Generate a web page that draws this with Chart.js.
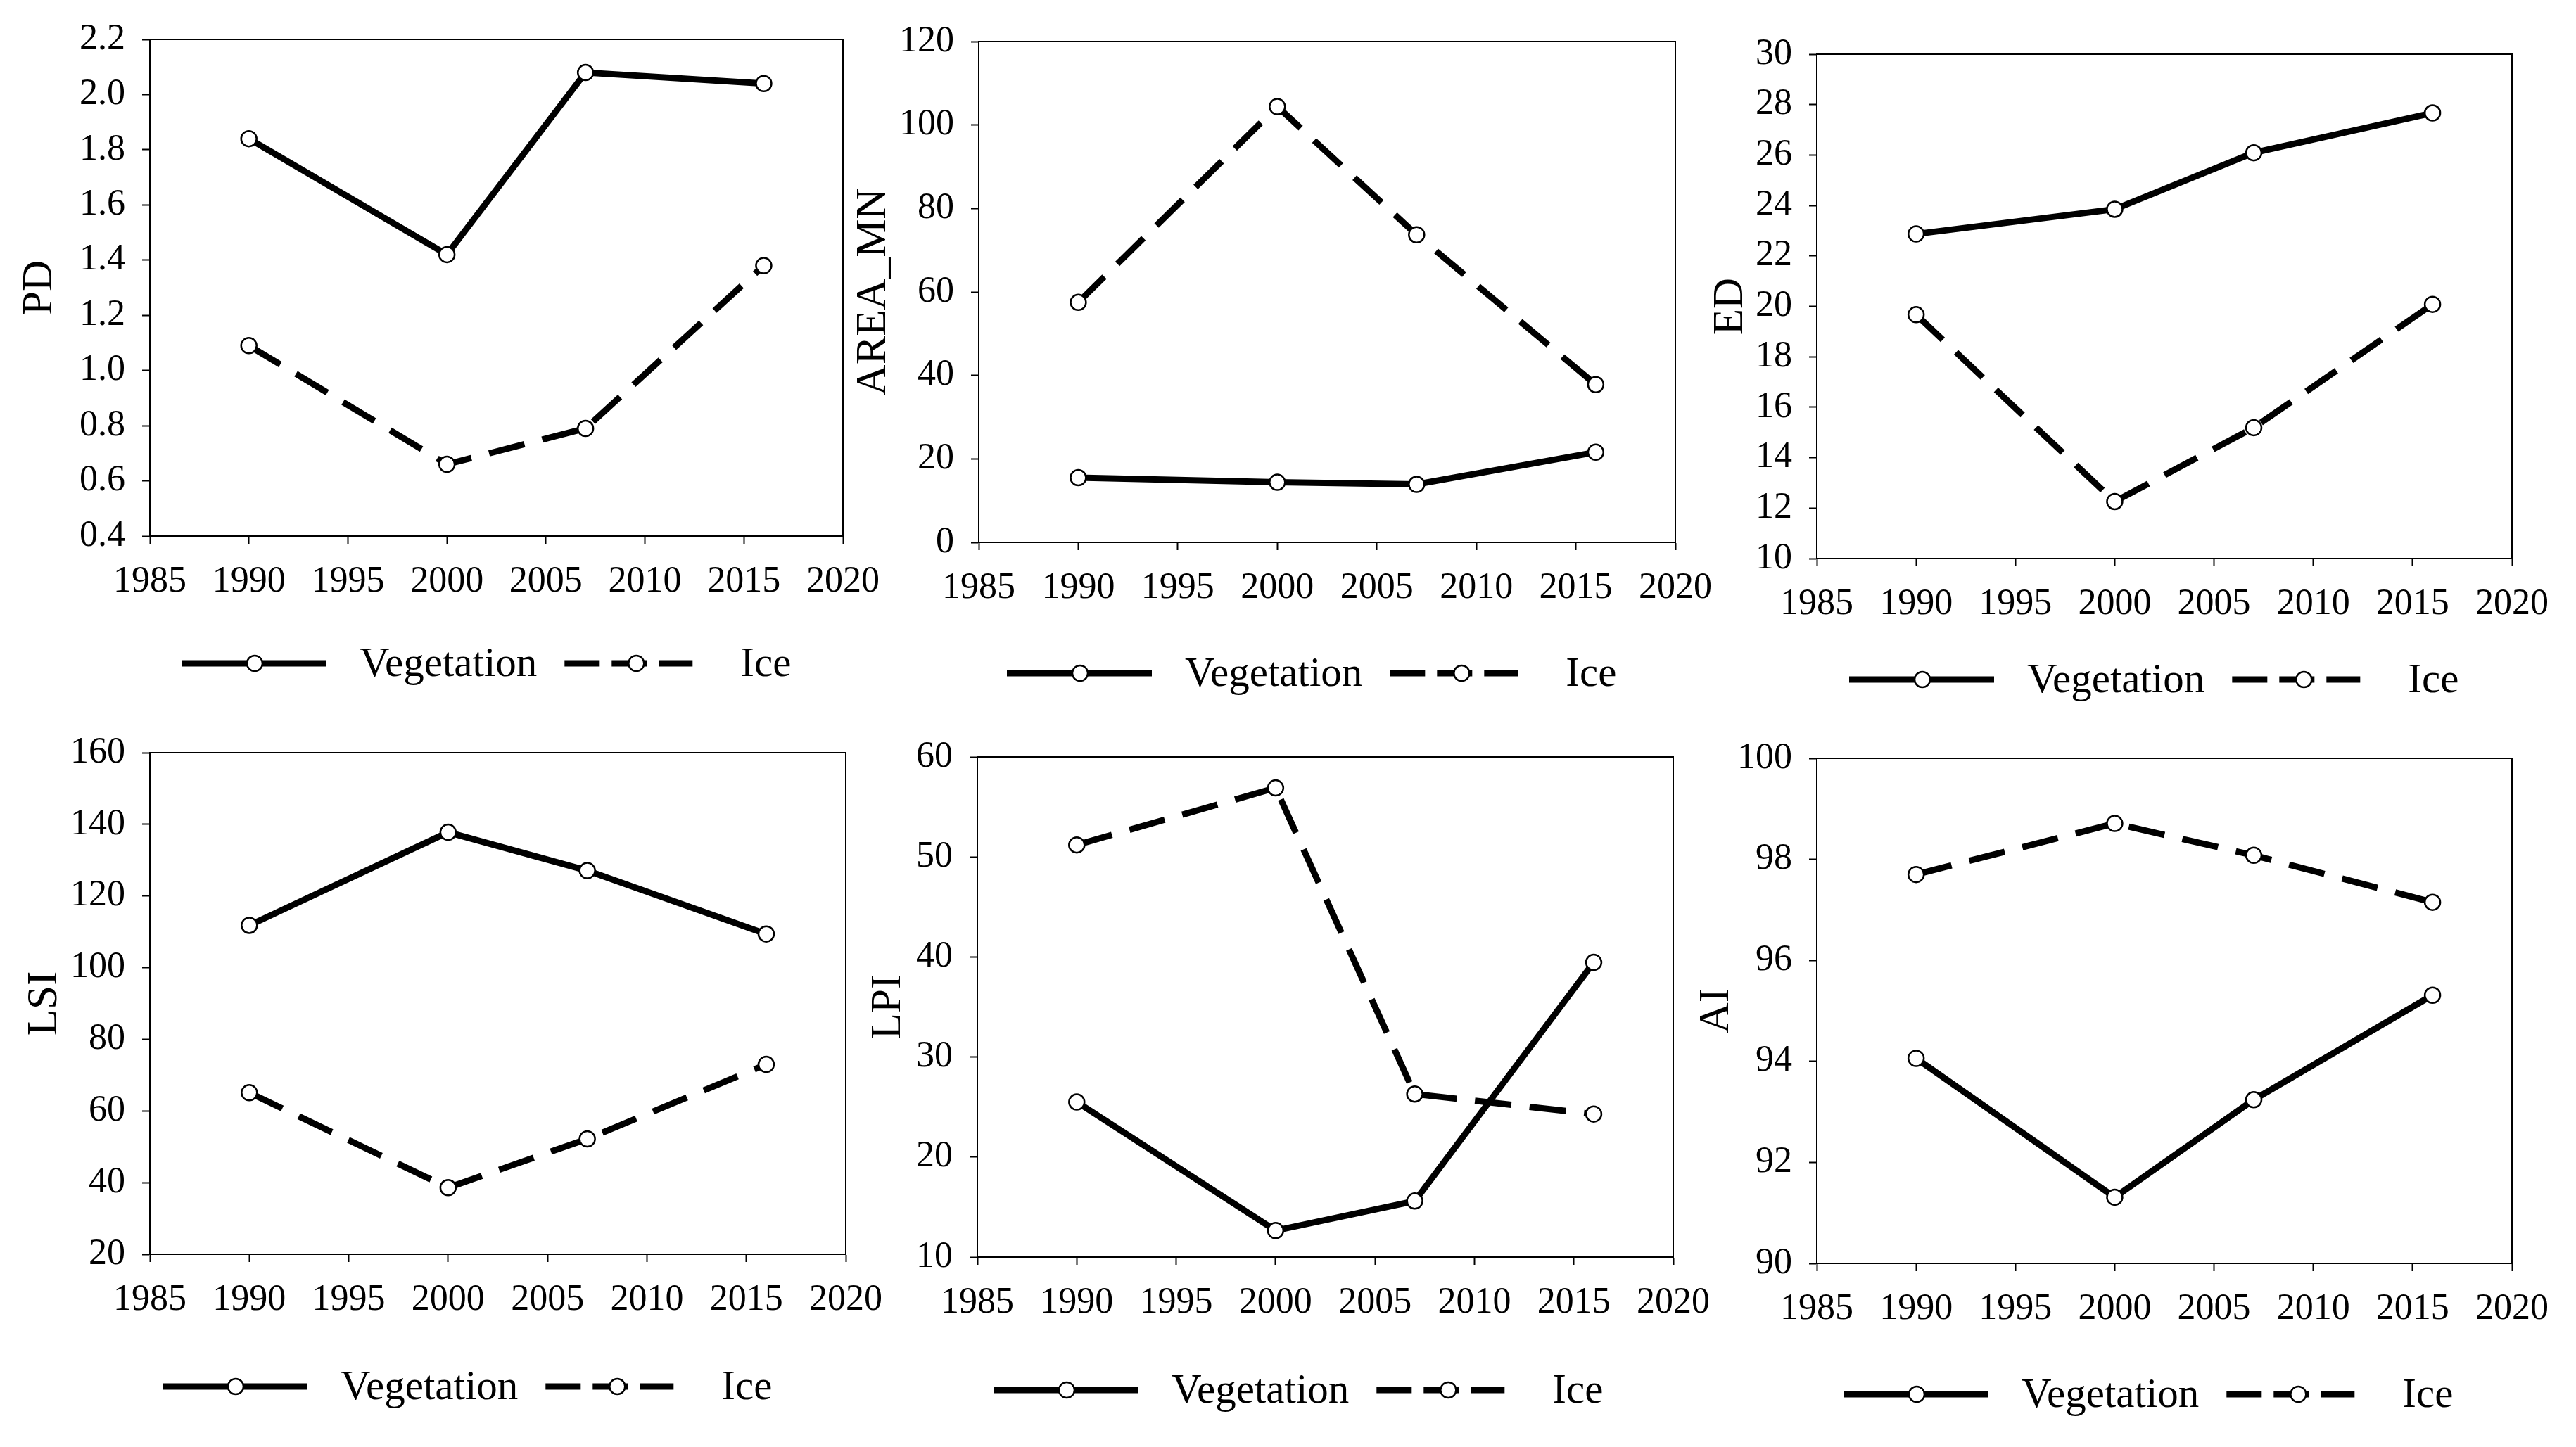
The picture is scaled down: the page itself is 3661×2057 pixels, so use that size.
<!DOCTYPE html>
<html>
<head>
<meta charset="utf-8">
<script src="https://cdn.jsdelivr.net/npm/chart.js@4.4.1/dist/chart.umd.min.js"></script>
<style>
html, body { margin: 0; padding: 0; background: #fff; }
body { width: 3661px; height: 2057px; position: relative; overflow: hidden; }
canvas { position: absolute; }
</style>
</head>
<body>
<script>
// years sampled
const years = [1990, 2000, 2007, 2016];
const xRange = [1985, 2020, 5];

// PD
const pdVeg = [1.84, 1.42, 2.08, 2.04];
const pdIce = [1.09, 0.66, 0.79, 1.38];
const pdRange = [0.4, 2.2, 0.2];
// AREA_MN
const areaVeg = [15.5, 14.4, 13.9, 21.6];
const areaIce = [57.5, 104.4, 73.7, 37.8];
const areaRange = [0, 120, 20];
// ED
const edVeg = [22.87, 23.85, 26.09, 27.67];
const edIce = [19.67, 12.26, 15.19, 20.08];
const edRange = [10, 30, 2];
// LSI
const lsiVeg = [111.8, 137.8, 127.1, 109.4];
const lsiIce = [65.1, 38.6, 52.2, 73.0];
const lsiRange = [20, 160, 20];
// LPI
const lpiVeg = [25.5, 12.65, 15.6, 39.46];
const lpiIce = [51.2, 56.9, 26.3, 24.3];
const lpiRange = [10, 60, 10];
// AI
const aiVeg = [94.06, 91.31, 93.24, 95.31];
const aiIce = [97.70, 98.71, 98.08, 97.15];
const aiRange = [90, 100, 2];

const seriesNames = ['Vegetation', 'Ice'];

const FONT = '"Liberation Serif", "Times New Roman", serif';
const PAD_L = 213, PAD_T = 56, X_H = 100, H = 1000;

// page layout of each panel: plot box [l, t, r, b], title centre, legend start / centre line
const panels = [
  { title: 'PD', veg: pdVeg, ice: pdIce, range: pdRange, dec: 1, plot: [213, 56, 1198, 762], titleX: 57, legendX: 258, legendY: 943 },
  { title: 'AREA_MN', veg: areaVeg, ice: areaIce, range: areaRange, dec: 0, plot: [1391, 59, 2381, 771], titleX: 1242, legendX: 1431, legendY: 957 },
  { title: 'ED', veg: edVeg, ice: edIce, range: edRange, dec: 0, plot: [2582, 77, 3570, 794], titleX: 2460, legendX: 2628, legendY: 966 },
  { title: 'LSI', veg: lsiVeg, ice: lsiIce, range: lsiRange, dec: 0, plot: [213, 1070, 1202, 1783], titleX: 64, legendX: 231, legendY: 1971 },
  { title: 'LPI', veg: lpiVeg, ice: lpiIce, range: lpiRange, dec: 0, plot: [1389, 1076, 2378, 1787], titleX: 1263, legendX: 1412, legendY: 1976 },
  { title: 'AI', veg: aiVeg, ice: aiIce, range: aiRange, dec: 0, plot: [2582, 1078, 3570, 1796], titleX: 2440, legendX: 2620, legendY: 1982 }
];

const framePlugin = {
  id: 'frame',
  afterDraw(chart) {
    const a = chart.chartArea, ctx = chart.ctx;
    ctx.save();
    ctx.strokeStyle = '#000';
    ctx.lineWidth = 2;
    ctx.strokeRect(a.left, a.top, a.right - a.left, a.bottom - a.top);
    ctx.restore();
  }
};

function marker(ctx, x, y) {
  ctx.save();
  ctx.setLineDash([]);
  ctx.beginPath();
  ctx.arc(x, y, 11, 0, Math.PI * 2);
  ctx.fillStyle = '#fff';
  ctx.fill();
  ctx.lineWidth = 2.5;
  ctx.strokeStyle = '#000';
  ctx.stroke();
  ctx.restore();
}

function legendPlugin(p, cx, cy) {
  return {
    id: 'lineLegend',
    afterDraw(chart) {
      const ctx = chart.ctx;
      const y = p.legendY - cy;
      let x = p.legendX - cx;
      ctx.save();
      ctx.font = '59px ' + FONT;
      ctx.textBaseline = 'middle';
      ctx.fillStyle = '#000';
      ctx.strokeStyle = '#000';
      ctx.lineWidth = 9;
      // solid
      ctx.beginPath();
      ctx.moveTo(x, y); ctx.lineTo(x + 206, y);
      ctx.stroke();
      marker(ctx, x + 104, y);
      x += 253;
      ctx.fillText(seriesNames[0], x, y + 2);
      x += ctx.measureText(seriesNames[0]).width + 39;
      // dashed
      ctx.setLineDash([50, 17]);
      ctx.beginPath();
      ctx.moveTo(x, y); ctx.lineTo(x + 182, y);
      ctx.stroke();
      ctx.setLineDash([]);
      marker(ctx, x + 102, y);
      x += 182 + 68;
      ctx.fillText(seriesNames[1], x, y + 2);
      ctx.restore();
    }
  };
}

panels.forEach(p => {
  const [l, t, r, b] = p.plot;
  const cx = l - PAD_L, cy = t - PAD_T;
  const w = r - cx + 75;
  const plotH = b - t;
  const cv = document.createElement('canvas');
  cv.width = w; cv.height = H;
  cv.style.left = cx + 'px'; cv.style.top = cy + 'px';
  cv.style.width = w + 'px'; cv.style.height = H + 'px';
  document.body.appendChild(cv);

  const pts = vals => years.map((yr, i) => ({ x: yr, y: vals[i] }));
  const common = {
    borderColor: '#000', borderWidth: 9, fill: false, tension: 0,
    pointRadius: 11, pointBorderWidth: 2.5, pointBackgroundColor: '#fff', pointBorderColor: '#000'
  };

  new Chart(cv, {
    type: 'line',
    data: {
      datasets: [
        Object.assign({ label: seriesNames[0], data: pts(p.veg) }, common),
        Object.assign({ label: seriesNames[1], data: pts(p.ice), borderDash: [52, 26] }, common)
      ]
    },
    options: {
      responsive: false,
      animation: false,
      devicePixelRatio: 1,
      layout: {
        autoPadding: false,
        padding: { left: 0, top: PAD_T, right: w - (r - cx), bottom: H - PAD_T - plotH - X_H }
      },
      plugins: { legend: { display: false }, tooltip: { enabled: false } },
      scales: {
        x: {
          type: 'linear',
          min: xRange[0], max: xRange[1],
          ticks: {
            stepSize: xRange[2], autoSkip: false, maxRotation: 0,
            callback: v => String(v),
            font: { family: FONT, size: 52 }, color: '#000', padding: 23
          },
          grid: { drawOnChartArea: false, tickLength: 11, tickColor: '#000', tickWidth: 2 },
          border: { color: '#000', width: 2 },
          afterFit: s => { s.height = X_H; }
        },
        y: {
          type: 'linear',
          min: p.range[0], max: p.range[1],
          ticks: {
            stepSize: p.range[2], autoSkip: false,
            callback: v => p.dec ? Number(v).toFixed(p.dec) : String(Math.round(v)),
            font: { family: FONT, size: 52 }, color: '#000', padding: 24
          },
          grid: { drawOnChartArea: false, tickLength: 11, tickColor: '#000', tickWidth: 2 },
          border: { color: '#000', width: 2 },
          title: {
            display: true, text: p.title, color: '#000',
            font: { family: FONT, size: 61 },
            padding: { top: p.titleX - cx - 37, bottom: 0 }
          },
          afterFit: s => { s.width = PAD_L; }
        }
      }
    },
    plugins: [framePlugin, legendPlugin(p, cx, cy)]
  });
});
</script>
</body>
</html>
